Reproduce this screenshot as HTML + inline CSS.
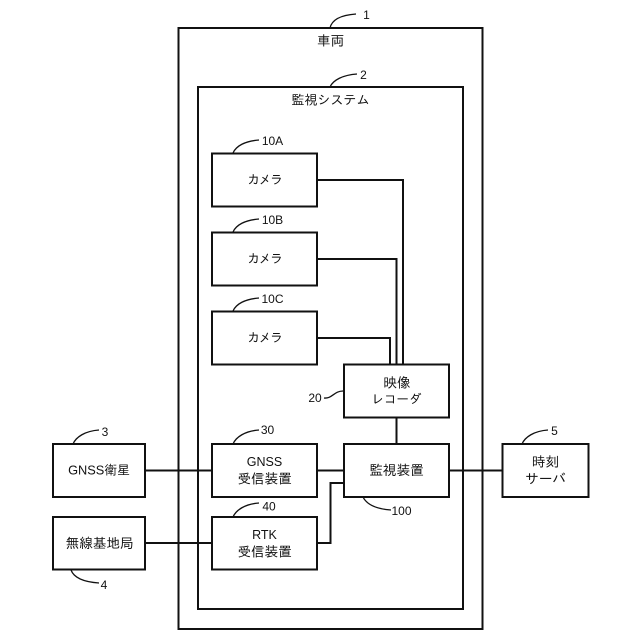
<!DOCTYPE html>
<html lang="ja">
<head>
<meta charset="utf-8">
<style>
html,body{margin:0;padding:0;background:#fff;width:640px;height:640px;overflow:hidden}
svg{display:block}
text{font-family:"Liberation Sans","IPAGothic","Noto Sans CJK JP",sans-serif;font-size:13.6px;fill:#111;text-anchor:middle}
.n{font-size:12px}
.k{font-size:12.5px;letter-spacing:-1px}
.r{font-size:12.5px}
.s{font-size:13px}
rect{fill:none;stroke:#111;stroke-width:2}
path{fill:none;stroke:#111;stroke-width:2}
.l{stroke-width:1.3}
</style>
</head>
<body>
<svg width="640" height="640" viewBox="0 0 640 640" xmlns="http://www.w3.org/2000/svg">
<rect x="178.5" y="28" width="304" height="601"/>
<rect x="198" y="87" width="265" height="522"/>
<rect x="212" y="153.5" width="105" height="53"/>
<rect x="212" y="232.5" width="105" height="53"/>
<rect x="212" y="311.5" width="105" height="53"/>
<rect x="344" y="364.5" width="105" height="53"/>
<rect x="212" y="444" width="105" height="53"/>
<rect x="212" y="517" width="105" height="52.5"/>
<rect x="344" y="444" width="105" height="53"/>
<rect x="53" y="444" width="92" height="53"/>
<rect x="53" y="517" width="92" height="52.5"/>
<rect x="502.5" y="444" width="86" height="53"/>

<path d="M317 180H403V364.5"/>
<path d="M317 259H396.500V364.5"/>
<path d="M317 338H390V364.5"/>
<path d="M396.500 417.500V444"/>
<path d="M145 470.500H212M317 470.500H344M449 470.500H502.500"/>
<path d="M145 543H212M317 543H330.500V483H344"/>

<path class="l" d="M330 28C332 19 342 15 356 14"/>
<path class="l" d="M330 87C333 80 343 75 357 74"/>
<path class="l" d="M233 153C236 146 245 141 259 140"/>
<path class="l" d="M233 232C236 225 245 220 259 219"/>
<path class="l" d="M233 311C236 304 245 299 259 298"/>
<path class="l" d="M324 398C332 399 334 391 343 391"/>
<path class="l" d="M233 444C236 437 245 431 259 430"/>
<path class="l" d="M233 517C236 510 245 504 259 503"/>
<path class="l" d="M73 444C76 437 85 431 99 430"/>
<path class="l" d="M71 570C74 578 84 582 99 583"/>
<path class="l" d="M522 444C525 437 534 431 548 430"/>
<path class="l" d="M363 497C367 505 377 509 391 510"/>

<text x="330.500" y="45.500">車両</text>
<text class="s" x="330.500" y="104.500">監視システム</text>
<text class="k" x="264.500" y="184">カメラ</text>
<text class="k" x="264.500" y="263">カメラ</text>
<text class="k" x="264.500" y="342">カメラ</text>
<text x="397" y="387.500">映像</text>
<text class="r" x="396.500" y="403.500">レコーダ</text>
<text class="r" x="264.500" y="466">GNSS</text>
<text x="264.500" y="483.500">受信装置</text>
<text class="r" x="264.500" y="539">RTK</text>
<text x="264.500" y="556.500">受信装置</text>
<text x="396.500" y="475">監視装置</text>
<text x="99" y="474.500" style="font-size:12.8px">GNSS衛星</text>
<text x="99.500" y="548">無線基地局</text>
<text x="545.500" y="466.500">時刻</text>
<text x="545.500" y="483.500">サーバ</text>

<text class="n" x="366.500" y="19">1</text>
<text class="n" x="363.500" y="79">2</text>
<text class="n" x="272.500" y="145">10A</text>
<text class="n" x="272.500" y="224">10B</text>
<text class="n" x="272.500" y="303">10C</text>
<text class="n" x="315" y="402">20</text>
<text class="n" x="267.500" y="434">30</text>
<text class="n" x="269" y="510.500">40</text>
<text class="n" x="105" y="436">3</text>
<text class="n" x="104" y="589">4</text>
<text class="n" x="554.500" y="435">5</text>
<text class="n" x="401.500" y="515">100</text>
</svg>
</body>
</html>
